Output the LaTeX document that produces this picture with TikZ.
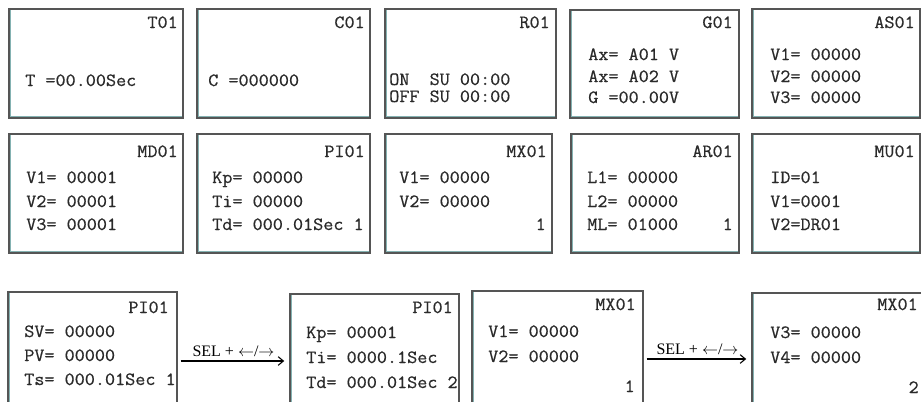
\documentclass[tikz,border=0pt]{standalone}
\usepackage{fontspec}
\setmainfont{Liberation Serif}
\setmonofont{Latin Modern Mono}[FakeStretch=1.05, FakeBold=0.6]
\usetikzlibrary{arrows.meta,positioning}
\definecolor{lcdgray}{HTML}{555555}
\definecolor{lcdteal}{HTML}{84B2B2}
\definecolor{lcdtext}{HTML}{2A2A2A}

\begin{document}
\begin{tikzpicture}[x=0.75pt, y=-0.75pt,
  lcd/.style 2 args={draw=lcdgray, line width=1.6pt, fill=white, inner sep=0pt,
    minimum width=#1*0.75pt, minimum height=#2*0.75pt,
    path picture={\draw[lcdteal, line width=2.6pt] (path picture bounding box.north west)
      -- (path picture bounding box.south west) -- (path picture bounding box.south east);}},
  ttl/.style={anchor=base east, inner sep=0pt, text=lcdtext, font=\fontsize{14}{16}\selectfont\ttfamily},
  ln/.style={anchor=base west, inner sep=0pt, text=lcdtext, font=\fontsize{14}{16}\selectfont\ttfamily},
  arr/.style={-{Straight Barb[length=4pt, width=6.5pt]}, line width=0.8pt, shorten <=2pt, shorten >=3.5pt},
  sel/.style={above=3pt, inner sep=0pt, font=\fontsize{12}{14}\selectfont}
]
  \useasboundingbox (0,0) rectangle (921,401);

  % first row
  \node[lcd={174}{109}] (t01) at (96,63.5) {};
  \node[lcd={173}{109}] (c01) at (283.5,63.5) {};
  \node[lcd={171}{109}] (r01) at (470.5,63.5) {};
  \node[lcd={169}{108}] (g01) at (654.5,64) {};
  \node[lcd={168}{109}] (as01) at (836,63.5) {};

  \node[ttl] (t01t) at (178,28) {T01};
  \node[ln] (t01a) at (25,86) {T =00.00Sec};
  \node[ttl] (c01t) at (365,28) {C01};
  \node[ln] (c01a) at (208,86) {C =000000};
  \node[ttl] (r01t) at (550,28) {R01};
  \node[ln] (r01a) at (389,85) {ON\ \ SU 00:00};
  \node[ln] (r01b) at (389,102) {OFF SU 00:00};
  \node[ttl] (g01t) at (733,28) {G01};
  \node[ln] (g01a) at (588,60) {Ax= A01 V};
  \node[ln] (g01b) at (588,82) {Ax= A02 V};
  \node[ln] (g01c) at (588,103) {G =00.00V};
  \node[ttl] (as01t) at (915,28) {AS01};
  \node[ln] (as01a) at (770,60) {V1= 00000};
  \node[ln] (as01b) at (770,82) {V2= 00000};
  \node[ln] (as01c) at (770,103) {V3= 00000};

  % second row
  \node[lcd={174}{119}] (md01) at (96,193.5) {};
  \node[lcd={173}{119}] (pi01) at (283.5,193.5) {};
  \node[lcd={167}{119}] (mx01) at (468.5,193.5) {};
  \node[lcd={168}{119}] (ar01) at (655,193.5) {};
  \node[lcd={168}{119}] (mu01) at (836,193.5) {};

  \node[ttl] (md01t) at (178,157) {MD01};
  \node[ln] (md01a) at (26,183) {V1= 00001};
  \node[ln] (md01b) at (26,207) {V2= 00001};
  \node[ln] (md01c) at (26,230) {V3= 00001};
  \node[ttl] (pi01t) at (365,157) {PI01};
  \node[ln] (pi01a) at (212,183) {Kp= 00000};
  \node[ln] (pi01b) at (212,207) {Ti= 00000};
  \node[ln] (pi01c) at (212,230) {Td= 000.01Sec 1};
  \node[ttl] (mx01t) at (547,157) {MX01};
  \node[ln] (mx01a) at (399,183) {V1= 00000};
  \node[ln] (mx01b) at (399,207) {V2= 00000};
  \node[ttl] (mx01n) at (546,230) {1};
  \node[ttl] (ar01t) at (733,157) {AR01};
  \node[ln] (ar01a) at (587,183) {L1= 00000};
  \node[ln] (ar01b) at (587,207) {L2= 00000};
  \node[ln] (ar01c) at (587,230) {ML= 01000};
  \node[ttl] (ar01n) at (733,230) {1};
  \node[ttl] (mu01t) at (915,157) {MU01};
  \node[ln] (mu01a) at (770,183) {ID=01};
  \node[ln] (mu01b) at (770,207) {V1=0001};
  \node[ln] (mu01c) at (770,230) {V2=DR01};

  % third row, paged screens
  \node[lcd={169}{138}] (pia) at (92.5,361) {};
  \node[lcd={169}{134}] (pib) at (374.5,361) {};
  \node[lcd={171}{136}] (mxa) at (557.5,359) {};
  \node[lcd={178}{132}] (mxb) at (841,359) {};

  \node[ttl] (piat) at (169,313) {PI01};
  \node[ln] (piaa) at (24,337) {SV= 00000};
  \node[ln] (piab) at (24,361) {PV= 00000};
  \node[ln] (piac) at (24,385) {Ts= 000.01Sec 1};
  \node[ttl] (pibt) at (453,313) {PI01};
  \node[ln] (piba) at (306,338) {Kp= 00001};
  \node[ln] (pibb) at (306,363) {Ti= 0000.1Sec};
  \node[ln] (pibc) at (306,388) {Td= 000.01Sec 2};
  \node[ttl] (mxat) at (636,310) {MX01};
  \node[ln] (mxaa) at (488,337) {V1= 00000};
  \node[ln] (mxab) at (488,362) {V2= 00000};
  \node[ttl] (mxan) at (635,392) {1};
  \node[ttl] (mxbt) at (918,310) {MX01};
  \node[ln] (mxba) at (770,338) {V3= 00000};
  \node[ln] (mxbb) at (770,363) {V4= 00000};
  \node[ttl] (mxbn) at (919,393) {2};

  \draw[arr] (pia) -- node[sel] (sela) {SEL + $\leftarrow$/$\rightarrow$} (pib);
  \draw[arr] (mxa) -- node[sel] (selb) {SEL + $\leftarrow$/$\rightarrow$} (mxb);
\end{tikzpicture}
\end{document}
